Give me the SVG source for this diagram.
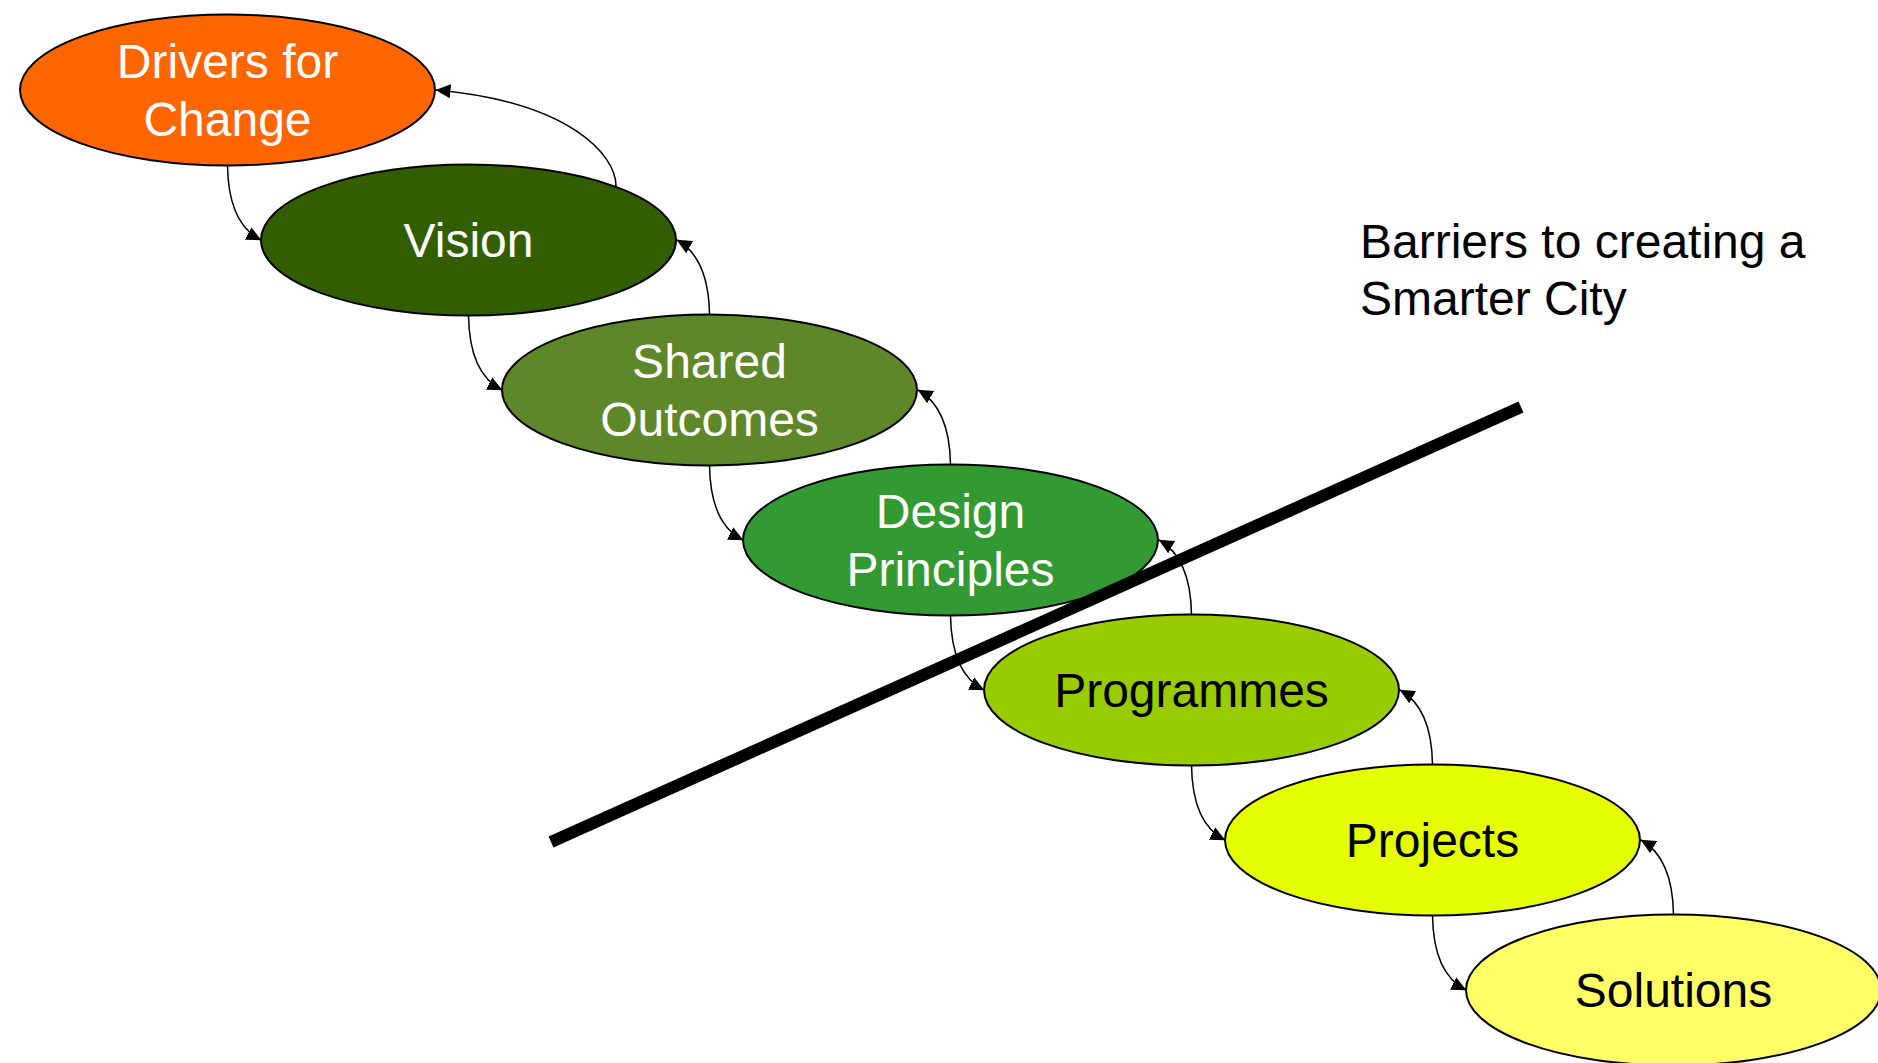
<svg xmlns="http://www.w3.org/2000/svg" width="1878" height="1063" viewBox="0 0 1878 1063">
<style>
.node ellipse{stroke:#000;stroke-width:2}
.lbl{font-family:"Liberation Sans",Arial,sans-serif;font-size:48px;text-anchor:middle}
.w{fill:#fff}
.b{fill:#000}
.conn path{fill:none;stroke:#000;stroke-width:1.5;marker-end:url(#ah)}
.note{font-family:"Liberation Sans",Arial,sans-serif;font-size:48px;fill:#000}
</style>
<defs>
<marker id="ah" viewBox="0 0 15 14" markerWidth="15" markerHeight="14" refX="14.5" refY="7" orient="auto" markerUnits="userSpaceOnUse">
<path d="M0,0 L15,7 L0,14 z" fill="#000"/>
</marker>
</defs>
<rect width="1878" height="1063" fill="#fff"/>
<g id="drivers" class="node">
<ellipse cx="227.5" cy="90" rx="207.5" ry="75.5" fill="#FF6600"/>
<text class="lbl w" x="227.5" y="78.3">Drivers for</text>
<text class="lbl w" x="227.5" y="136">Change</text>
</g>
<g id="vision" class="node">
<ellipse cx="468.5" cy="240" rx="207.5" ry="75.5" fill="#335E00"/>
<text class="lbl w" x="468.5" y="256.7">Vision</text>
</g>
<g id="shared" class="node">
<ellipse cx="709.5" cy="390" rx="207.5" ry="75.5" fill="#5E8729"/>
<text class="lbl w" x="709.5" y="378.3">Shared</text>
<text class="lbl w" x="709.5" y="436">Outcomes</text>
</g>
<g id="design" class="node">
<ellipse cx="950.5" cy="540" rx="207.5" ry="75.5" fill="#339933"/>
<text class="lbl w" x="950.5" y="528.3">Design</text>
<text class="lbl w" x="950.5" y="586">Principles</text>
</g>
<g id="programmes" class="node">
<ellipse cx="1191.5" cy="690" rx="207.5" ry="75.5" fill="#99CC00"/>
<text class="lbl b" x="1191.5" y="706.7">Programmes</text>
</g>
<g id="projects" class="node">
<ellipse cx="1432.5" cy="840" rx="207.5" ry="75.5" fill="#E5FF00"/>
<text class="lbl b" x="1432.5" y="856.7">Projects</text>
</g>
<g id="solutions" class="node">
<ellipse cx="1673.5" cy="990" rx="207.5" ry="75.5" fill="#FFFF66"/>
<text class="lbl b" x="1673.5" y="1006.7">Solutions</text>
</g>
<g id="barrier">
<line x1="551" y1="842" x2="1521" y2="407" stroke="#000" stroke-width="12"/>
<text class="note" x="1360" y="258.3">Barriers to creating a</text>
<text class="note" x="1360" y="315">Smarter City</text>
</g>
<g id="connectors" class="conn">
<path d="M227.5,165.5 C228,200 237,228 261,240"/>
<path d="M468.5,315.5 C469,350 478,378 502,390"/>
<path d="M709.5,465.5 C710,500 719,528 743,540"/>
<path d="M950.5,615.5 C951,650 960,678 984,690"/>
<path d="M1191.5,765.5 C1192,800 1201,828 1225,840"/>
<path d="M1432.5,915.5 C1433,950 1442,978 1466,990"/>
<path d="M616,186 C616,155 570,102 436,90"/>
<path d="M709.5,314.5 C709,280 700,253 677,240"/>
<path d="M950.5,464.5 C950,430 941,403 918,390"/>
<path d="M1191.5,614.5 C1191,580 1182,553 1159,540"/>
<path d="M1432.5,764.5 C1432,730 1423,703 1400,690"/>
<path d="M1673.5,914.5 C1673,880 1664,853 1641,840"/>
</g>
</svg>
